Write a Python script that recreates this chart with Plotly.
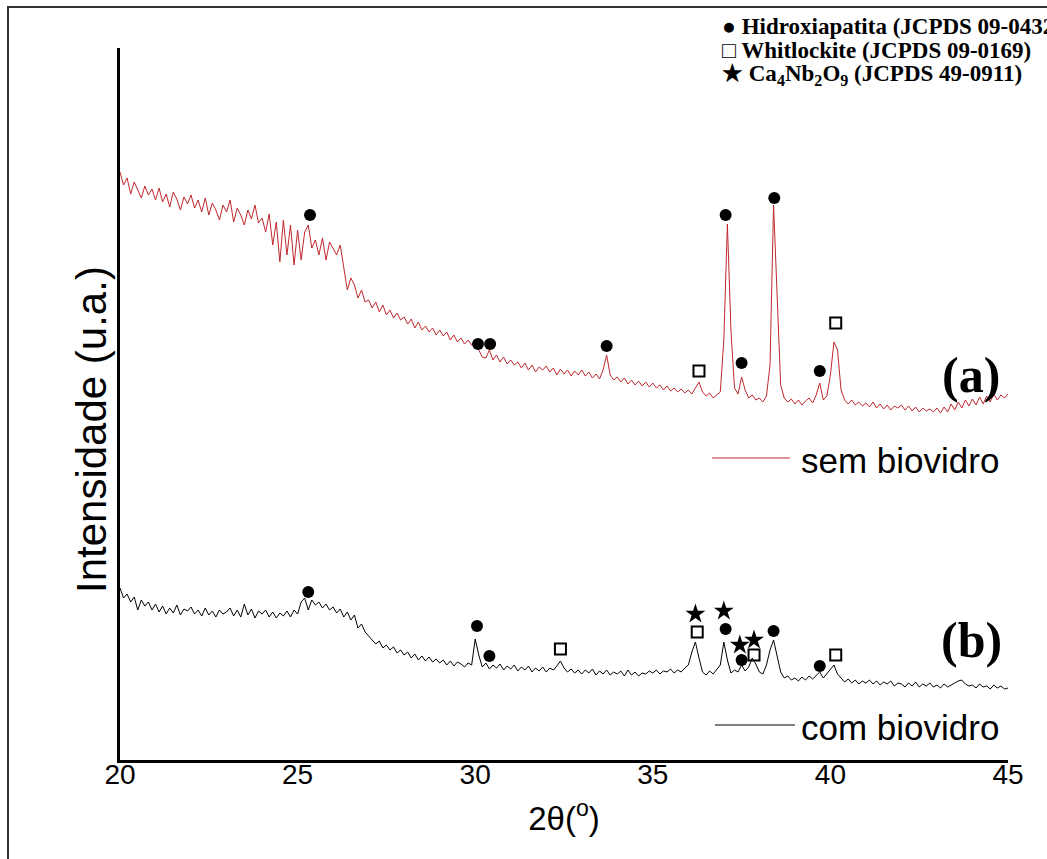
import numpy as np
import plotly.graph_objects as go

# 2theta sampling grid (degrees), 0.1 deg step
two_theta = np.round(np.arange(200, 451) / 10.0, 1)

# (a) sem biovidro - intensity (a.u.), rows of 1 degree (x.0 .. x.9)
sem_biovidro = [
    588, 575, 582, 566, 578, 570, 562, 574, 565, 571,   # 20
    560, 572, 558, 566, 553, 568, 561, 550, 563, 556,   # 21
    565, 552, 560, 548, 562, 545, 557, 550, 540, 555,   # 22
    548, 560, 538, 552, 545, 535, 550, 541, 555, 537,   # 23
    542, 528, 546, 515, 538, 498, 540, 505, 535, 495,   # 24
    530, 500, 528, 535, 512, 520, 505, 522, 500, 518,   # 25
    512, 505, 515, 490, 470, 482, 475, 462, 470, 458,   # 26
    460, 452, 458, 448, 455, 445, 450, 442, 447, 440,   # 27
    443, 436, 441, 432, 438, 430, 434, 428, 432, 425,   # 28
    430, 424, 428, 420, 425, 418, 422, 416, 420, 415,   # 29
    418, 410, 403, 402, 410, 400, 405, 398, 403, 396,   # 30
    400, 395, 398, 392, 397, 390, 395, 388, 393, 390,   # 31
    394, 388, 392, 385, 391, 386, 390, 384, 389, 385,   # 32
    390, 384, 388, 382, 386, 381, 390, 405, 385, 380,   # 33
    383, 378, 382, 376, 380, 375, 379, 374, 378, 373,   # 34
    377, 372, 375, 370, 374, 369, 372, 368, 371, 367,   # 35
    370, 366, 372, 378, 368, 364, 367, 362, 365, 368,   # 36
    420, 536, 430, 372, 366, 383, 370, 362, 365, 360,   # 37
    362, 358, 364, 395, 555, 470, 375, 362, 358, 361,   # 38
    356, 360, 355, 359, 362, 357, 365, 377, 360, 364,   # 39
    385, 418, 410, 370, 360, 356, 360, 355, 358, 354,   # 40
    357, 353, 358, 352, 356, 351, 355, 350, 354, 352,   # 41
    355, 350, 354, 349, 353, 348, 352, 349, 351, 348,   # 42
    352, 347, 353, 348, 356, 350, 358, 352, 360, 354,   # 43
    361, 355, 363, 356, 364, 358, 366, 360, 365, 362,   # 44
    366,                                                # 45
]

# (b) com biovidro - intensity (a.u.)
com_biovidro = [
    172, 162, 166, 158, 163, 150, 160, 154, 158, 150,   # 20
    156, 148, 154, 146, 152, 147, 155, 145, 151, 149,   # 21
    153, 146, 150, 144, 152, 145, 149, 143, 150, 146,   # 22
    148, 152, 144, 150, 143, 156, 145, 151, 142, 149,   # 23
    146, 150, 143, 148, 142, 147, 144, 149, 143, 150,   # 24
    146, 158, 162, 150, 160, 155, 158, 152, 156, 150,   # 25
    153, 147, 151, 143, 148, 140, 145, 132, 136, 128,   # 26
    124, 120, 116, 119, 112, 115, 110, 113, 107, 110,   # 27
    105, 108, 102, 106, 100, 104, 99, 103, 98, 101,     # 28
    97, 100, 95, 99, 94, 98, 96, 93, 97, 95,            # 29
    121, 105, 93, 97, 91, 95, 92, 96, 90, 94,           # 30
    91, 95, 89, 93, 90, 94, 88, 92, 89, 93,             # 31
    88, 92, 90, 94, 99, 92, 88, 91, 87, 90,             # 32
    86, 90, 87, 91, 85, 89, 86, 90, 85, 88,             # 33
    86, 89, 84, 90, 85, 88, 84, 87, 86, 89,             # 34
    87, 90, 86, 89, 88, 91, 87, 90, 88, 92,             # 35
    95, 108, 118, 102, 88, 85, 89, 86, 90, 95,          # 36
    118, 100, 87, 90, 88, 95, 89, 93, 102, 96,          # 37
    88, 86, 95, 110, 120, 105, 88, 82, 84, 80,          # 38
    82, 79, 83, 80, 84, 81, 85, 88, 82, 86,             # 39
    90, 95, 86, 82, 78, 81, 77, 80, 76, 79,             # 40
    77, 80, 76, 79, 75, 78, 76, 79, 74, 77,             # 41
    76, 73, 77, 74, 78, 73, 76, 74, 77, 73,             # 42
    75, 72, 76, 73, 75, 77, 79, 80, 76, 74,             # 43
    75, 72, 76, 73, 74, 71, 75, 72, 74, 71,             # 44
    72,                                                 # 45
]

# Phase identification markers (2theta, label height)
ha_a_x = [25.35, 30.08, 30.42, 33.7, 37.05, 37.5, 38.42, 39.7]
ha_a_y = [545, 416, 416, 414, 545, 397, 562, 389]
wh_a_x = [36.3, 40.15]
wh_a_y = [389, 437]

ha_b_x = [25.3, 30.05, 30.4, 37.05, 37.5, 38.4, 39.7]
ha_b_y = [168, 134, 104, 131, 100, 129, 94]
wh_b_x = [32.4, 36.25, 37.85, 40.15]
wh_b_y = [111, 128, 105, 105]
cn_b_x = [36.2, 37.0, 37.45, 37.85]
cn_b_y = [146, 149, 115, 120]

x_ticks = [20, 25, 30, 35, 40, 45]

RED = "#c0282d"

fig = go.Figure()
fig.add_trace(go.Scatter(x=two_theta, y=sem_biovidro, mode="lines",
                         line=dict(color=RED, width=1), showlegend=False))
fig.add_trace(go.Scatter(x=two_theta, y=com_biovidro, mode="lines",
                         line=dict(color="black", width=1), showlegend=False))

def add_markers(xs, ys, symbol, size, lw=0):
    fig.add_trace(go.Scatter(
        x=xs, y=ys, mode="markers", showlegend=False, cliponaxis=False,
        marker=dict(symbol=symbol, size=size, color="black",
                    line=dict(color="black", width=lw))))

add_markers(ha_a_x, ha_a_y, "circle", 12)
add_markers(ha_b_x, ha_b_y, "circle", 12)
add_markers(wh_a_x, wh_a_y, "square-open", 11, 2)
add_markers(wh_b_x, wh_b_y, "square-open", 11, 2)
add_markers(cn_b_x, cn_b_y, "star", 15)

annotations = []
# phase legend (top right, serif bold)
leg_font = dict(family="Liberation Serif, Times New Roman, serif", size=23, color="black")
leg_items = [
    ("● Hidroxiapatita (JCPDS 09-0432)", 27),
    ("□ Whitlockite (JCPDS 09-0169)", 51),
    ("★ Ca<sub>4</sub>Nb<sub>2</sub>O<sub>9</sub> (JCPDS 49-0911)", 75),
]
for txt, py in leg_items:
    annotations.append(dict(
        text="<b>" + txt + "</b>", xref="paper", yref="paper",
        x=(720 - 120) / 888, y=(760 - py) / 712, xanchor="left", yanchor="middle",
        showarrow=False, font=leg_font))

# (a) / (b)
lab_font = dict(family="Liberation Serif, Times New Roman, serif", size=50, color="black")
annotations.append(dict(text="<b>(a)</b>", x=43.97, y=385, xanchor="center",
                        yanchor="middle", showarrow=False, font=lab_font))
annotations.append(dict(text="<b>(b)</b>", x=43.97, y=120, xanchor="center",
                        yanchor="middle", showarrow=False, font=lab_font))

# series labels
sl_font = dict(family="Liberation Sans, Arial, sans-serif", size=35, color="black")
annotations.append(dict(text="sem biovidro", x=39.12, y=300, xanchor="left",
                        yanchor="middle", showarrow=False, font=sl_font))
annotations.append(dict(text="com biovidro", x=39.12, y=33, xanchor="left",
                        yanchor="middle", showarrow=False, font=sl_font))

# y-axis title
annotations.append(dict(text="Intensidade (u.a.)", xref="paper", yref="paper",
                        x=(92 - 120) / 888, y=(760 - 430) / 712, textangle=-90,
                        xanchor="center", yanchor="middle", showarrow=False,
                        font=dict(size=42, family="Liberation Sans, Arial, sans-serif",
                                  color="black")))

shapes = [
    dict(type="line", x0=36.67, x1=38.86, y0=302, y1=302,
         line=dict(color=RED, width=1)),
    dict(type="line", x0=36.75, x1=39.0, y0=35, y1=35,
         line=dict(color="black", width=1)),
    # outer frame
    dict(type="rect", xref="paper", yref="paper",
         x0=(8 - 120) / 888, x1=1.2, y0=-0.3, y1=(760 - 7) / 712,
         line=dict(color="#333333", width=2), layer="below"),
]

fig.update_layout(
    width=1047, height=859,
    margin=dict(l=120, r=39, t=48, b=99),
    paper_bgcolor="white", plot_bgcolor="white",
    font=dict(family="Liberation Sans, Arial, sans-serif", color="black"),
    annotations=annotations, shapes=shapes,
    xaxis=dict(range=[20, 45], tickvals=x_ticks, ticktext=[str(t) for t in x_ticks],
               showline=True, linecolor="black", linewidth=3, ticks="",
               ticklabelstandoff=-13,
               showgrid=False, zeroline=False,
               tickfont=dict(size=28, family="Liberation Sans, Arial, sans-serif"),
               title=dict(text="2θ(<sup>o</sup>)", standoff=19,
                          font=dict(size=33, family="Liberation Sans, Arial, sans-serif"))),
    yaxis=dict(range=[0, 712], showline=True, linecolor="black", linewidth=3,
               showticklabels=False, ticks="", showgrid=False, zeroline=False),
)

fig.write_html("out.html", config={"displayModeBar": False},
               post_script="document.body.style.margin='0px';document.body.style.overflow='hidden';")
